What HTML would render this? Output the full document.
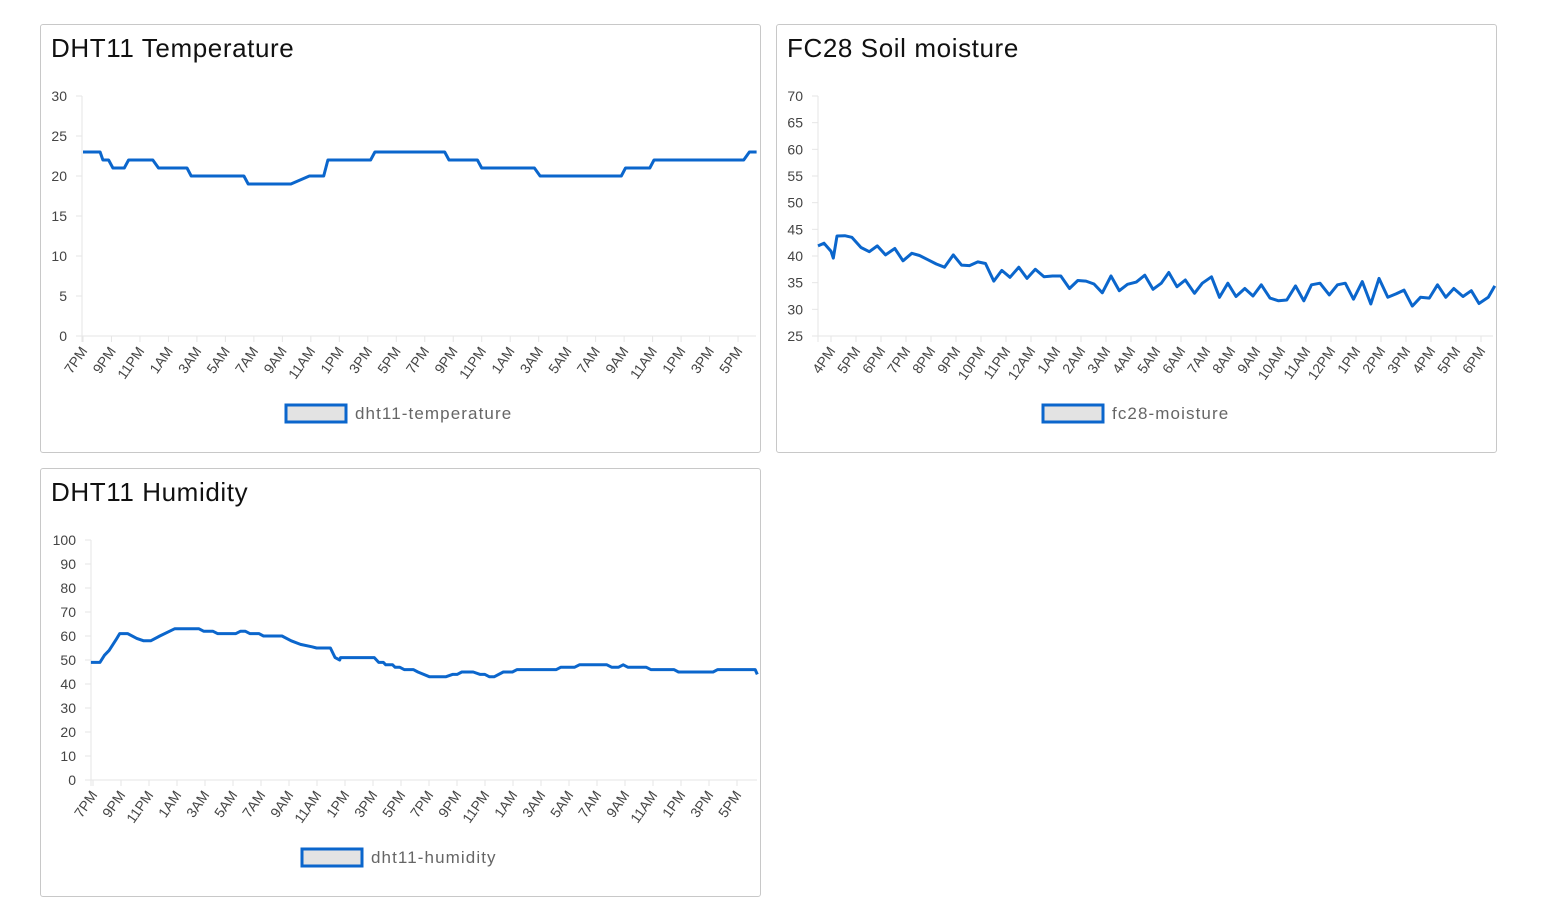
<!DOCTYPE html>
<html><head><meta charset="utf-8">
<style>
body{margin:0;background:#fff;width:1546px;height:922px;overflow:hidden;font-family:"Liberation Sans",sans-serif}
.card{position:absolute;border:1px solid #c8c8c8;border-radius:3px;background:#fff;box-sizing:border-box}
.title{position:absolute;left:10px;top:8px;font-size:26px;letter-spacing:0.6px;color:#111}
svg{position:absolute;left:0;top:0}
</style></head><body>
<div class="card" style="left:40px;top:24px;width:721px;height:429px"><div class="title">DHT11 Temperature</div></div>
<div class="card" style="left:776px;top:24px;width:721px;height:429px"><div class="title">FC28 Soil moisture</div></div>
<div class="card" style="left:40px;top:468px;width:721px;height:429px"><div class="title">DHT11 Humidity</div></div>
<svg id="chart" width="1546" height="922"></svg>
<script>
// Temperature (x = hours since 7PM)
const tempHours=[0,1.2,1.4,1.8,2.1,2.9,3.2,4.9,5.3,7.3,7.6,11.3,11.6,14.6,15.9,16.9,17.2,20.2,20.5,25.4,25.7,27.7,28.0,31.7,32.1,37.8,38.1,39.8,40.1,46.4,46.8,47.3];
const tempValues=[23,23,22,22,21,21,22,22,21,21,20,20,19,19,20,20,22,22,23,23,22,22,21,21,20,20,21,21,22,22,23,23];
const tempTicks=[0,5,10,15,20,25,30];
const tempXLabels=["7PM","9PM","11PM","1AM","3AM","5AM","7AM","9AM","11AM","1PM","3PM","5PM","7PM","9PM","11PM","1AM","3AM","5AM","7AM","9AM","11AM","1PM","3PM","5PM"];
// Soil moisture (x = hours since 4PM)
const soilHours=[-0.52,-0.28,0,0.09,0.24,0.55,0.83,1.2,1.53,1.85,2.18,2.55,2.88,3.23,3.54,3.87,4.21,4.54,4.89,5.22,5.54,5.87,6.18,6.51,6.83,7.16,7.51,7.84,8.17,8.52,8.86,9.19,9.54,9.87,10.2,10.52,10.85,11.2,11.53,11.86,12.21,12.55,12.88,13.21,13.51,13.84,14.17,14.54,14.85,15.22,15.54,15.87,16.2,16.55,16.88,17.21,17.56,17.9,18.23,18.58,18.91,19.22,19.56,19.93,20.26,20.57,20.9,21.25,21.59,21.92,22.27,22.6,22.92,23.25,23.58,23.93,24.26,24.59,24.91,25.28,25.61,25.92,26.29,26.55];
const soilValues=[41.9,42.4,40.9,39.6,43.75,43.8,43.5,41.6,40.8,41.9,40.2,41.4,39.1,40.5,40.1,39.3,38.5,37.9,40.2,38.3,38.2,38.9,38.6,35.3,37.3,36.0,37.9,35.8,37.5,36.1,36.25,36.25,33.9,35.4,35.3,34.75,33.1,36.25,33.5,34.7,35.1,36.4,33.75,34.9,36.9,34.25,35.5,33.0,34.9,36.1,32.25,34.9,32.4,33.9,32.5,34.6,32.1,31.6,31.75,34.4,31.6,34.6,34.9,32.7,34.6,34.9,31.9,35.2,31.0,35.8,32.25,32.9,33.6,30.6,32.25,32.1,34.6,32.25,33.9,32.4,33.5,31.1,32.25,34.4];
const soilTicks=[25,30,35,40,45,50,55,60,65,70];
const soilXLabels=["4PM","5PM","6PM","7PM","8PM","9PM","10PM","11PM","12AM","1AM","2AM","3AM","4AM","5AM","6AM","7AM","8AM","9AM","10AM","11AM","12PM","1PM","2PM","3PM","4PM","5PM","6PM"];
// Humidity (x = hours since 7PM)
const humHours=[-0.15,0.49,0.82,1.15,1.65,1.91,2.47,3.13,3.62,4.12,4.77,5.83,7.57,7.9,8.56,8.89,10.21,10.54,10.87,11.2,11.85,12.18,13.5,14.16,14.82,15.64,15.97,16.96,17.29,17.62,17.68,20.09,20.41,20.74,20.91,21.4,21.57,21.9,22.23,22.88,23.21,24.04,25.19,25.68,26.01,26.34,27.16,27.66,27.99,28.32,28.65,29.31,29.96,30.29,33.09,33.42,34.41,34.74,36.71,37.04,37.54,37.87,38.2,39.51,39.84,41.49,41.82,44.29,44.62,47.3,47.45];
const humValues=[49,49,52,54,58.5,61,61,59,58,58,60,63,63,62,62,61,61,62,62,61,61,60,60,58,56.5,55.5,55,55,51,50,51,51,49,49,48,48,47,47,46,46,45,43,43,44,44,45,45,44,44,43,43,45,45,46,46,47,47,48,48,47,47,48,47,47,46,46,45,45,46,46,44];
const humTicks=[0,10,20,30,40,50,60,70,80,90,100];
const humXLabels=tempXLabels;

const NS="http://www.w3.org/2000/svg";
const svg=document.getElementById('chart');
function mk(tag,attrs,parent){const e=document.createElementNS(NS,tag);for(const k in attrs)e.setAttribute(k,attrs[k]);(parent||svg).appendChild(e);return e;}

function drawChart(o){
  const g=mk('g',{});
  
  
  const ymin=o.yTicks[0],ymax=o.yTicks[o.yTicks.length-1];
  const yS=v=>o.y1-(v-ymin)/(ymax-ymin)*(o.y1-o.y0);
  const xS=h=>o.xTick0+h*o.pxPerHour;
  o.yTicks.forEach(t=>{
    const y=yS(t);
    const l=mk('line',{x1:o.x0-6,x2:o.x0,y1:y,y2:y,stroke:'#e6e6e6','stroke-width':1},g);
    
    
    const tx=mk('text',{x:o.x0-15,y:y+5,'text-anchor':'end','font-size':14,fill:'#444'},g);
    tx.textContent=t;
    
    
  });
  const ax=mk('line',{x1:o.x0,x2:o.x0,y1:o.y0,y2:o.y1+6,stroke:'#e6e6e6','stroke-width':1},g);
  
  
  const bx=mk('line',{x1:o.x0,x2:o.x1,y1:o.y1,y2:o.y1,stroke:'#e6e6e6','stroke-width':1},g);
  
  
  o.xLabels.forEach((lab,i)=>{
    const x=xS(i*o.labelStep);
    const l=mk('line',{x1:x,x2:x,y1:o.y1,y2:o.y1+6,stroke:'#e6e6e6','stroke-width':1},g);
    
    
    const tx=mk('text',{x:x+5,y:o.y1+15,'text-anchor':'end','font-size':14,fill:'#444',transform:`rotate(-55 ${x+5} ${o.y1+15})`},g);
    tx.textContent=lab;
    
    
  });
  const d=o.xs.map((h,i)=>(i?'L':'M')+xS(h).toFixed(1)+' '+yS(o.vs[i]).toFixed(1)).join(' ');
  const p=mk('path',{d:d,fill:'none',stroke:'#0b66cc','stroke-width':3,'stroke-linejoin':'round'},g);
  
  
  const r=mk('rect',{x:o.legX,y:o.legY,width:60,height:17,fill:'#e3e3e3',stroke:'#0b66cc','stroke-width':3},g);
  
  
  const lt=mk('text',{x:o.legX+69,y:o.legY+14,'font-size':17,'letter-spacing':1.1,fill:'#666'},g);
  lt.textContent=o.legend;
  
  
}
drawChart({name:'temperature',x0:82,x1:756,y0:96,y1:336,xTick0:83,pxPerHour:14.24,labelStep:2,yTicks:tempTicks,xLabels:tempXLabels,xs:tempHours,vs:tempValues,legX:286,legY:405,legend:'dht11-temperature'});
drawChart({name:'moisture',x0:818,x1:1493,y0:96,y1:336,xTick0:831,pxPerHour:25,labelStep:1,yTicks:soilTicks,xLabels:soilXLabels,xs:soilHours,vs:soilValues,legX:1043,legY:405,legend:'fc28-moisture'});
drawChart({name:'humidity',x0:91,x1:757,y0:540,y1:780,xTick0:93,pxPerHour:14.0,labelStep:2,yTicks:humTicks,xLabels:humXLabels,xs:humHours,vs:humValues,legX:302,legY:849,legend:'dht11-humidity'});
</script>
</body></html>
